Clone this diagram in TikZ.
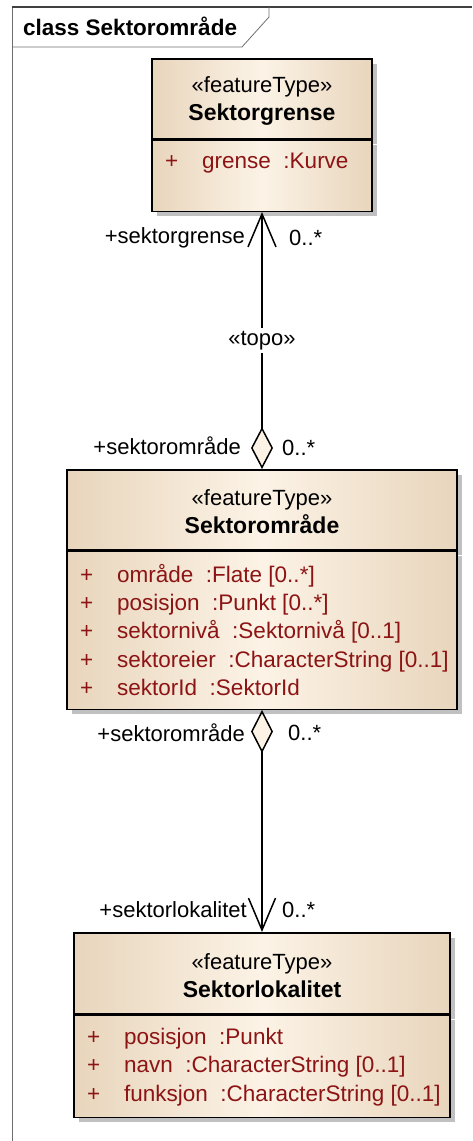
\documentclass[tikz,border=0pt]{standalone}
\usepackage{fontspec}
\setmainfont{Liberation Sans}
\usetikzlibrary{arrows.meta,shadows}
\definecolor{tanedge}{RGB}{232,213,188}
\definecolor{tanmid}{RGB}{252,243,230}
\definecolor{attrred}{RGB}{140,20,20}
\definecolor{shadowgray}{RGB}{192,192,192}
\definecolor{framegray}{RGB}{110,110,110}
\newcommand{\eafont}{\fontsize{22.5}{28.3}\selectfont}
\newcommand{\eabold}[1]{{\fontsize{23}{28}\selectfont\bfseries #1}}
\newcommand{\attrline}[1]{\makebox[37pt][l]{+}#1}

\begin{document}
\begin{tikzpicture}[x=1pt,y=-1pt]
	\tikzstyle{classpart} = [draw=black, line width=1.5pt, inner sep=0pt, anchor=north,
		general shadow={fill=shadowgray, shadow xshift=5pt, shadow yshift=-5pt},
		left color=tanedge, right color=tanedge, middle color=tanmid]
	\tikzstyle{headtext} = [align=center, font=\fontsize{22}{28}\selectfont]
	\tikzstyle{attrtext} = [anchor=north west, align=left, inner sep=0pt, text=attrred, font=\eafont]
	\tikzstyle{rolelabel} = [inner sep=0pt, font=\fontsize{22}{24}\selectfont]
	\tikzstyle{assoc} = [draw=black, line width=1.5pt]
	\useasboundingbox (0,0) rectangle (472,1141);
	% diagram frame
	\draw[framegray, line width=1pt] (12,1141) -- (12,7);
	\draw[black!75, line width=1.6pt] (11.5,7) -- (472,7);
	\draw[framegray, line width=0.8pt] (12,47) -- (242,47) -- (269,17) -- (269,7);
	\node[anchor=base west, inner sep=0pt] (frameTitle) at (23,35)
		{\fontsize{22.5}{26}\selectfont\bfseries class Sektorområde};
	% Sektorgrense
	\node[classpart, minimum width=220pt, minimum height=80pt] (grenseHead) at (262,58) {};
	\node[classpart, minimum width=220pt, minimum height=71pt] (grenseAttr) at (grenseHead.south) {};
	\node[headtext] (grenseName) at (262,101) {«featureType»\\\eabold{Sektorgrense}};
	\node[attrtext] (grenseList) at (165,153) {\attrline{grense~ :Kurve}};
	% Sektorområde
	\node[classpart, minimum width=390pt, minimum height=80pt] (omraadeHead) at (262,469) {};
	\node[classpart, minimum width=390pt, minimum height=158pt] (omraadeAttr) at (omraadeHead.south) {};
	\node[headtext] (omraadeName) at (262,512) {«featureType»\\\eabold{Sektorområde}};
	\node[attrtext] (omraadeList) at (80,564) {\attrline{område~ :Flate [0..*]}\\
		\attrline{posisjon~ :Punkt [0..*]}\\
		\attrline{sektornivå~ :Sektornivå [0..1]}\\
		\attrline{sektoreier~ :CharacterString [0..1]}\\
		\attrline{sektorId~ :SektorId}};
	% Sektorlokalitet
	\node[classpart, minimum width=376pt, minimum height=81pt] (lokalitetHead) at (262,932) {};
	\node[classpart, minimum width=376pt, minimum height=102pt] (lokalitetAttr) at (lokalitetHead.south) {};
	\node[headtext] (lokalitetName) at (262,976) {«featureType»\\\eabold{Sektorlokalitet}};
	\node[attrtext] (lokalitetList) at (87,1028) {\attrline{posisjon~ :Punkt}\\
		\attrline{navn~ :CharacterString [0..1]}\\
		\attrline{funksjon~ :CharacterString [0..1]}};
	% associations
	\draw[assoc, {Straight Barb[length=33pt,width=28pt]}-{Diamond[length=42pt,width=22pt,fill=tanmid]}]
		(grenseAttr.south) -- node[fill=white, rolelabel, inner sep=3pt] (topo) {«topo»} (omraadeHead.north);
	\draw[assoc, {Diamond[length=43pt,width=22pt,fill=tanmid]}-{Straight Barb[length=32pt,width=27pt]}]
		(omraadeAttr.south) -- (lokalitetHead.north);
	% role names and multiplicities
	\node[rolelabel, anchor=east] (grenseRole) at (245,238) {+sektorgrense};
	\node[rolelabel, anchor=west] (grenseMult) at (289,238) {0..*};
	\node[rolelabel, anchor=east] (omraadeRoleA) at (241,446) {+sektorområde};
	\node[rolelabel, anchor=west] (omraadeMultA) at (282,448) {0..*};
	\node[rolelabel, anchor=east] (omraadeRoleB) at (245,733) {+sektorområde};
	\node[rolelabel, anchor=west] (omraadeMultB) at (288,733) {0..*};
	\node[rolelabel, anchor=east] (lokalitetRole) at (247,910) {+sektorlokalitet};
	\node[rolelabel, anchor=west] (lokalitetMult) at (282,910) {0..*};
\end{tikzpicture}
\end{document}
